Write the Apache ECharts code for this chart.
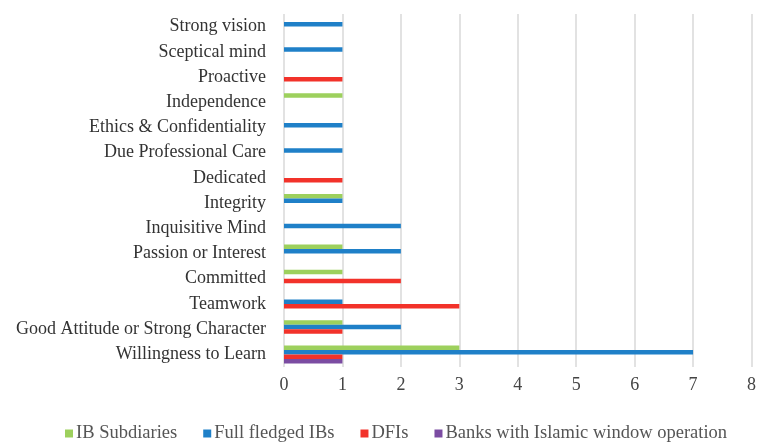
<!DOCTYPE html>
<html>
<head>
<meta charset="utf-8">
<script src="https://cdn.jsdelivr.net/npm/echarts@6/dist/echarts.min.js"></script>
<style>
html,body{margin:0;padding:0;background:#fff;}
#chart{width:759px;height:443px;}
</style>
</head>
<body>
<div id="chart"></div>
<script>
// categories from bottom to top
var categories = ["Willingness to Learn","Good Attitude or Strong Character","Teamwork","Committed",
	"Passion or Interest","Inquisitive Mind","Integrity","Dedicated","Due Professional Care",
	"Ethics & Confidentiality","Independence","Proactive","Sceptical mind","Strong vision"];
var ibSubsidiaries = [3,1,0,1,1,0,1,0,0,0,1,0,0,0];
var fullFledgedIBs = [7,2,1,0,2,2,1,0,1,1,0,0,1,1];
var dfis           = [1,1,3,2,0,0,0,1,0,0,0,1,0,0];
var islamicWindow  = [1,0,0,0,0,0,0,0,0,0,0,0,0,0];
var xTicks = [0,1,2,3,4,5,6,7,8];

var font = "'Liberation Serif','Times New Roman',serif";
var chart = echarts.init(document.getElementById("chart"));

function toNull(arr){
	return arr.map(function(v){ return v === 0 ? null : v; });
}
function mk(name,data,color){
	return {
		name:name,
		type:'bar',
		data:toNull(data),
		itemStyle:{color:color},
		barWidth:4.5,
		barGap:'0%',
		barCategoryGap:'28%'
	};
}

var option = {
	animation:false,
	textStyle:{fontFamily:font},
	grid:{left:284,right:7,top:14,bottom:76,containLabel:false},
	legend:{
		bottom:-5,
		left:60,
		itemWidth:8,
		itemHeight:8,
		itemGap:26,
		icon:'rect',
		textStyle:{fontFamily:font,fontSize:18.5,color:'#555',padding:[0,0,0,-2]}
	},
	xAxis:{
		type:'value',
		min:xTicks[0],
		max:xTicks[xTicks.length-1],
		interval:1,
		axisLine:{show:false},
		axisTick:{show:false},
		splitLine:{lineStyle:{color:'#d9d9d9',width:1.5}},
		axisLabel:{fontFamily:font,fontSize:18,color:'#444',margin:9}
	},
	yAxis:{
		type:'category',
		data:categories,
		axisLine:{show:false},
		axisTick:{show:false},
		axisLabel:{fontFamily:font,fontSize:18,color:'#333',margin:18,interval:0}
	},
	series:[
		mk("IB Subdiaries",ibSubsidiaries,'#9dd05d'),
		mk("Full fledged IBs",fullFledgedIBs,'#1f80c8'),
		mk("DFIs",dfis,'#f2322a'),
		mk("Banks with Islamic window operation",islamicWindow,'#7b4ca2')
	]
};
chart.setOption(option);
</script>
</body>
</html>
